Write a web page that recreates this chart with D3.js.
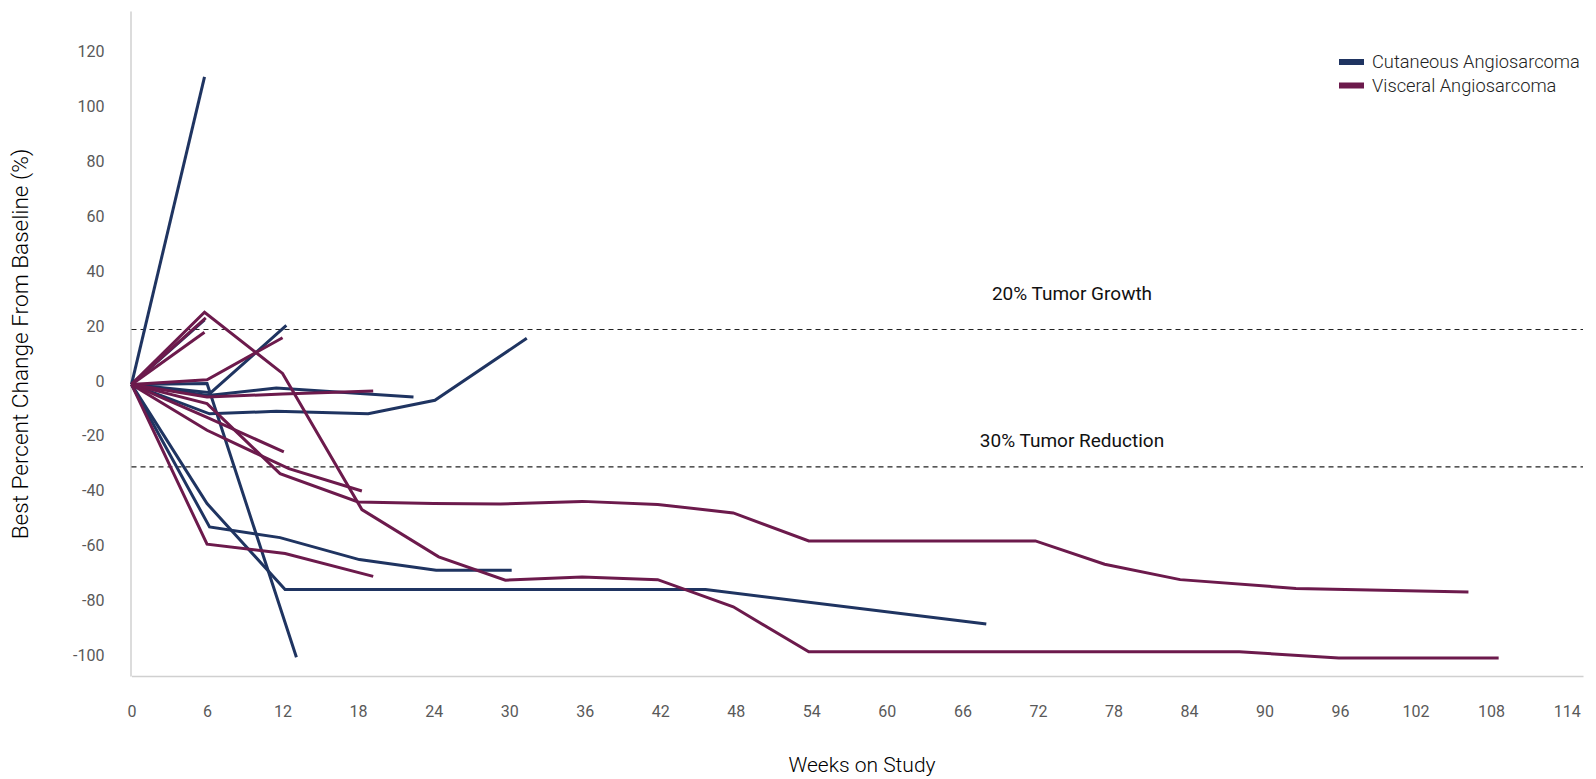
<!DOCTYPE html>
<html>
<head>
<meta charset="utf-8">
<script src="https://cdn.jsdelivr.net/npm/d3@7"></script>
<style>
  html, body { margin: 0; padding: 0; background: #fff; }
  svg { display: block; font-family: Roboto, "Noto Sans", sans-serif; }
</style>
</head>
<body>
<svg id="chart" width="1596" height="779"></svg>
<script>
// Per-patient tumour measurements: [week on study, % change from baseline]
const cutaneousPatients = [
  [[0, 0], [5.8, 112]],
  [[0, 0], [6.3, -3], [12.3, 21.5]],
  [[0, 0], [6.1, -4], [11.5, -1.3], [22.4, -4.6]],
  [[0, 0], [6.2, -10.7], [11.5, -9.8], [18.8, -10.7], [24.1, -5.8], [31.4, 16.8]],
  [[0, 0], [6, -43.4], [12.2, -74.7], [45.6, -74.7], [67.9, -87.3]],
  [[0, 0], [6.2, -51.9], [11.8, -55.8], [18.1, -63.8], [24.2, -67.7], [30.2, -67.7]],
  [[0, 0], [6, 0.3], [13.1, -99.4]],
  [[0, 0], [5.8, 23.5]]
];

const visceralPatients = [
  [[0, 0], [5.8, 26.3], [12, 4], [18.3, -45.6], [24.4, -62.8], [29.7, -71.3], [35.8, -70.1],
   [41.8, -71.1], [47.8, -81], [53.8, -97.4], [88, -97.4], [95.9, -99.6], [108.6, -99.6]],
  [[0, 0], [6, -7], [11.8, -32.5], [18, -42.8], [24, -43.4], [29.3, -43.6], [35.8, -42.6],
   [41.8, -43.7], [47.8, -46.8], [53.8, -57], [71.8, -57], [77.3, -65.5], [83.3, -71.1],
   [92.5, -74.3], [106.2, -75.6]],
  [[0, 0], [5.8, 19]],
  [[0, 0], [6, 1.7], [12, 17]],
  [[0, 0], [6, -4.6], [12, -3.5], [19.2, -2.4]],
  [[0, 0], [6, -12], [12.1, -24.6]],
  [[0, 0], [6, -16.7], [12.5, -30.7], [18.3, -38.8]],
  [[0, 0], [6, -58.2], [12.2, -61.6], [19.2, -69.9]],
  [[0, 0], [5.9, 24.2]]
];

const seriesNames = ["Cutaneous Angiosarcoma", "Visceral Angiosarcoma"];
const seriesColors = ["#1f3461", "#6c1a4c"];

const xTicks = d3.range(0, 115, 6);
const yTicks = d3.range(-100, 121, 20);

const thresholdValues = [20, -30];
const thresholdLabels = ["20% Tumor Growth", "30% Tumor Reduction"];

const xLabel = "Weeks on Study";
const yLabel = "Best Percent Change From Baseline (%)";

// Layout
const plot = { left: 131.5, right: 1583, top: 11, bottom: 676 };
const thresholdLabelLift = [29, 20];   // px above each dashed line
const thresholdLabelX = 1072;

const x = d3.scaleLinear().domain([0, 115.3]).range([plot.left, plot.right]);
const y = d3.scaleLinear().domain([-106.2, 136]).range([plot.bottom, plot.top]);

const svg = d3.select("#chart");
const plainNumber = d => String(d);   // hyphen-minus for negatives

// Axes
const xAxis = d3.axisBottom(x).tickValues(xTicks).tickFormat(plainNumber).tickSize(0).tickPadding(30);
const gx = svg.append("g").attr("transform", `translate(0,${plot.bottom})`).call(xAxis);
gx.select(".domain").attr("stroke", "#d0d0d0").attr("stroke-width", 1.5);
gx.selectAll("text").attr("fill", "#595959").attr("font-size", 16)
  .attr("font-family", "Roboto, sans-serif");

const yAxis = d3.axisLeft(y).tickValues(yTicks).tickFormat(plainNumber).tickSize(0).tickPadding(26);
const gy = svg.append("g").attr("transform", `translate(${plot.left - 1},0)`).call(yAxis);
gy.select(".domain").attr("stroke", "#d0d0d0").attr("stroke-width", 1.5);
gy.selectAll("text").attr("fill", "#595959").attr("font-size", 16)
  .attr("font-family", "Roboto, sans-serif").attr("dy", "0.1em");

// Threshold reference lines
const gt = svg.append("g");
gt.selectAll("line").data(thresholdValues).join("line")
  .attr("x1", plot.left).attr("x2", plot.right)
  .attr("y1", d => y(d)).attr("y2", d => y(d))
  .attr("stroke", "#222").attr("stroke-width", 1.2).attr("stroke-dasharray", "5,4");
gt.selectAll("text").data(thresholdValues).join("text")
  .attr("x", thresholdLabelX).attr("y", (d, i) => y(d) - thresholdLabelLift[i])
  .attr("text-anchor", "middle").attr("font-size", 19).attr("fill", "#111")
  .text((d, i) => thresholdLabels[i]);

// Patient lines
const line = d3.line().x(d => x(d[0])).y(d => y(d[1]));
[cutaneousPatients, visceralPatients].forEach((group, i) => {
  svg.append("g").selectAll("path").data(group).join("path")
    .attr("d", line)
    .attr("fill", "none")
    .attr("stroke", seriesColors[i])
    .attr("stroke-width", 3)
    .attr("stroke-linejoin", "miter");
});

// Legend
const legend = svg.append("g").attr("transform", "translate(1339,62)");
const items = legend.selectAll("g").data(seriesNames).join("g")
  .attr("transform", (d, i) => `translate(0,${i * 23.5})`);
items.append("rect").attr("x", 0).attr("y", -3).attr("width", 25).attr("height", 6)
  .attr("fill", (d, i) => seriesColors[i]);
items.append("text").attr("x", 33).attr("y", 0).attr("dy", "0.35em")
  .attr("font-size", 18.3).attr("font-weight", 300).attr("fill", "#222").text(d => d);

// Axis titles
svg.append("text").attr("x", 862).attr("y", 772).attr("text-anchor", "middle")
  .attr("font-size", 21).attr("font-weight", 300).attr("fill", "#000").text(xLabel);
svg.append("text").attr("transform", "translate(28,344) rotate(-90)")
  .attr("text-anchor", "middle").attr("font-size", 22.6).attr("font-weight", 300)
  .attr("fill", "#000").text(yLabel);
</script>
</body>
</html>
